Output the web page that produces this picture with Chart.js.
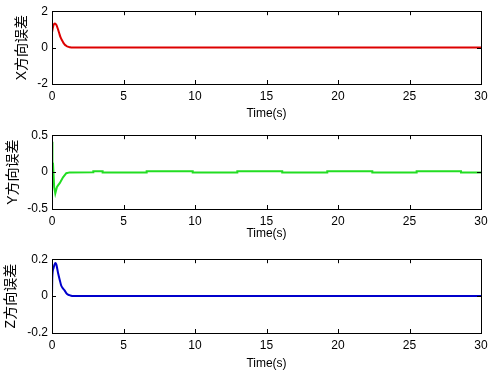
<!DOCTYPE html>
<html>
<head>
<meta charset="utf-8">
<script src="https://cdn.jsdelivr.net/npm/chart.js@4/dist/chart.umd.min.js"></script>
<style>
  body { margin: 0; background: #fff; }
  .panel { position: absolute; left: 0; width: 498px; height: 124px; }
</style>
</head>
<body>
<div class="panel" style="top:0"><canvas id="chartX" width="498" height="124"></canvas></div>
<div class="panel" style="top:124px"><canvas id="chartY" width="498" height="124"></canvas></div>
<div class="panel" style="top:248px"><canvas id="chartZ" width="498" height="124"></canvas></div>
<script>
// ---- data ----
const timeX = [0, 0.05, 0.1, 0.2, 0.3, 0.4, 0.5, 0.6, 0.7, 0.8, 0.9, 1.0, 1.1, 1.25, 1.45, 30];
const errX  = [0.83, 1.05, 1.22, 1.32, 1.25, 1.05, 0.8, 0.56, 0.4, 0.26, 0.16, 0.1, 0.05, 0.02, 0.005, 0];

const timeY = [0, 0.03, 0.07, 0.15, 0.23, 0.35, 0.42, 0.54, 0.77, 1.0, 1.24, 2.89, 2.89, 3.54, 3.54, 6.62, 6.62,
               9.84, 9.84, 12.96, 12.96, 16.1, 16.1, 19.25, 19.25, 22.4, 22.4, 25.5, 25.5, 28.6, 28.6, 30];
const errY  = [0.41, 0.13, 0.12, -0.2, -0.29, -0.2, -0.18, -0.15, -0.07, -0.015, -0.004, -0.003, 0.01, 0.01, -0.007, -0.007, 0.01,
               0.01, -0.007, -0.007, 0.01, 0.01, -0.007, -0.007, 0.01, 0.01, -0.007, -0.007, 0.01, 0.01, -0.007, -0.007];

const timeZ = [0, 0.02, 0.1, 0.23, 0.3, 0.42, 0.55, 0.65, 0.78, 0.89, 1.0, 1.12, 1.3, 1.47, 30];
const errZ  = [0, 0.1, 0.15, 0.18, 0.172, 0.127, 0.085, 0.056, 0.04, 0.03, 0.016, 0.008, 0.003, 0, 0];

const xTicks = [0, 5, 10, 15, 20, 25, 30];
const fontFamily = "'Liberation Sans', Arial, 'Noto Sans CJK SC', sans-serif";

// MATLAB-ish box with inward ticks on all four sides
const boxTicks = {
    id: 'boxTicks',
    afterDatasetsDraw(chart) {
        const { ctx, chartArea: a, scales } = chart;
        ctx.save();
        ctx.strokeStyle = '#000'; ctx.lineWidth = 1;
        ctx.strokeRect(Math.round(a.left) + 0.5, Math.round(a.top) + 0.5, Math.round(a.right - a.left), Math.round(a.bottom - a.top));
        ctx.beginPath();
        scales.x.ticks.forEach(t => {
            const px = Math.round(scales.x.getPixelForValue(t.value)) + 0.5;
            ctx.moveTo(px, a.bottom); ctx.lineTo(px, a.bottom - 4);
            ctx.moveTo(px, a.top); ctx.lineTo(px, a.top + 4);
        });
        scales.y.ticks.forEach(t => {
            const py = Math.round(scales.y.getPixelForValue(t.value)) + 0.5;
            ctx.moveTo(a.left, py); ctx.lineTo(a.left + 4, py);
            ctx.moveTo(a.right, py); ctx.lineTo(a.right - 4, py);
        });
        ctx.stroke();
        ctx.restore();
    }
};

function makeChart(id, times, vals, color, yLabel, yMax, ySteps, pad, titlePad, smooth) {
    const pts = times.map((t, i) => ({ x: t, y: vals[i] }));
    return new Chart(document.getElementById(id), {
        type: 'line',
        data: { datasets: [{ data: pts, borderColor: color, borderWidth: 2, pointRadius: 0,
                             cubicInterpolationMode: smooth ? 'monotone' : 'default', tension: 0 }] },
        options: {
            responsive: false, animation: false, devicePixelRatio: 1,
            layout: { padding: { top: pad.top, right: 17, left: 0, bottom: 0 } },
            plugins: { legend: { display: false }, tooltip: { enabled: false } },
            scales: {
                x: {
                    type: 'linear', min: 0, max: 30,
                    afterBuildTicks: s => { s.ticks = xTicks.map(v => ({ value: v })); },
                    afterFit: s => { s.height = pad.axisH; },
                    grid: { display: false, drawTicks: false }, border: { display: false },
                    ticks: { color: '#000', padding: 5, maxRotation: 0, font: { family: fontFamily, size: 12 } },
                    title: { display: true, text: 'Time(s)', color: '#000', padding: { top: 0, bottom: titlePad },
                             font: { family: fontFamily, size: 12 } }
                },
                y: {
                    min: -yMax, max: yMax,
                    afterBuildTicks: s => { s.ticks = ySteps.map(v => ({ value: v })); },
                    afterFit: s => { s.width = 52; },
                    grid: { display: false, drawTicks: false }, border: { display: false },
                    ticks: { color: '#000', padding: 4, font: { family: fontFamily, size: 12 },
                             callback: v => String(v) },
                    title: { display: true, text: yLabel, color: '#000', padding: { top: pad.yTitle, bottom: pad.yTitle },
                             font: { family: fontFamily, size: 14 } }
                }
            }
        },
        plugins: [boxTicks]
    });
}

makeChart('chartX', timeX, errX, '#dd0000', 'X方向误差', 2, [-2, 0, 2],
          { top: 11, axisH: 40, yTitle: 14 }, 3, true);
makeChart('chartY', timeY, errY, '#22dd22', 'Y方向误差', 0.5, [-0.5, 0, 0.5],
          { top: 10, axisH: 39, yTitle: 5 }, 7, false);
makeChart('chartZ', timeZ, errZ, '#0000cc', 'Z方向误差', 0.2, [-0.2, 0, 0.2],
          { top: 10, axisH: 39, yTitle: 3 }, 1, true);
</script>
</body>
</html>
